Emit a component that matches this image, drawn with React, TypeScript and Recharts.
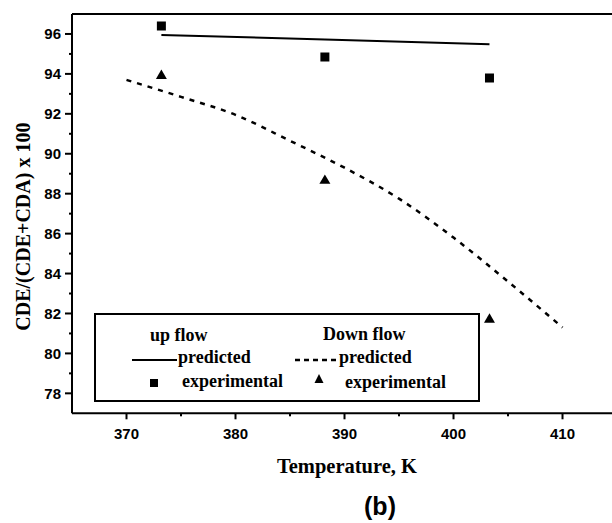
import React from 'react';
import { ComposedChart, Line, Scatter, XAxis, YAxis, ZAxis, Legend, Label } from 'recharts';

// temperature (K) and CDE/(CDE+CDA) x 100
const upExpT = [373.2, 388.2, 403.3];
const upExpV = [96.4, 94.85, 93.8];
const upPredT = [373.2, 388.2, 403.3];
const upPredV = [95.95, 95.72, 95.48];
const downExpT = [373.2, 388.2, 403.3];
const downExpV = [93.9, 88.65, 81.7];
const downPredT = [370, 375, 380, 385, 390, 395, 400, 405, 410];
const downPredV = [93.7, 92.85, 91.95, 90.65, 89.3, 87.75, 85.8, 83.6, 81.3];

const xTicks = [370, 375, 380, 385, 390, 395, 400, 405, 410];
const xLabels = [370, 380, 390, 400, 410];
const yTicks = [78, 79, 80, 81, 82, 83, 84, 85, 86, 87, 88, 89, 90, 91, 92, 93, 94, 95, 96];
const yLabels = [78, 80, 82, 84, 86, 88, 90, 92, 94, 96];

// the plot frame runs past the right edge of the figure
const xDomain = [365, 414.54];

const toPoints = (ts: number[], vs: number[]) => ts.map((t, i) => ({ t, v: vs[i] }));

const upExp = toPoints(upExpT, upExpV);
const upPred = toPoints(upPredT, upPredV);
const downExp = toPoints(downExpT, downExpV);
const downPred = toPoints(downPredT, downPredV);

const serif = '"Liberation Serif", "Times New Roman", serif';
const sans = '"Liberation Sans", Arial, sans-serif';

const XTick = ({ x, y, payload }: any) => {
  const major = xLabels.includes(payload.value);
  return (
    <g>
      <line x1={x} x2={x} y1={y} y2={y + (major ? 6 : 3)} stroke="#000" strokeWidth={2} />
      {major && (
        <text x={x} y={y + 26} textAnchor="middle" fontFamily={sans} fontWeight="bold" fontSize={15} fill="#000">
          {payload.value}
        </text>
      )}
    </g>
  );
};

const YTick = ({ x, y, payload }: any) => {
  const major = yLabels.includes(payload.value);
  return (
    <g>
      <line x1={x - (major ? 7 : 3)} x2={x} y1={y} y2={y} stroke="#000" strokeWidth={2} />
      {major && (
        <text x={x - 11} y={y + 5.5} textAnchor="end" fontFamily={sans} fontWeight="bold" fontSize={15} fill="#000">
          {payload.value}
        </text>
      )}
    </g>
  );
};

const LegendBox = () => {
  const txt = { fontFamily: serif, fontWeight: 'bold' as const, fontSize: 18, fill: '#000' };
  return (
    <svg width={386} height={89} style={{ display: 'block' }}>
      <rect x={1} y={1} width={384} height={87} fill="#fff" stroke="#000" strokeWidth={2} />
      <text x={56} y={28} {...txt}>up flow</text>
      <line x1={38} x2={83} y1={47} y2={47} stroke="#000" strokeWidth={2} />
      <text x={84} y={50} {...txt}>predicted</text>
      <rect x={56} y={66} width={8} height={8} fill="#000" />
      <text x={88} y={74} {...txt}>experimental</text>

      <text x={229} y={27} {...txt}>Down flow</text>
      <line x1={201} x2={243} y1={47} y2={47} stroke="#000" strokeWidth={2.5} strokeDasharray="5 4" />
      <text x={245} y={50} {...txt}>predicted</text>
      <polygon points="225,61 220.5,70 229.5,70" fill="#000" />
      <text x={251} y={75} {...txt}>experimental</text>
    </svg>
  );
};

const YTitle = ({ viewBox }: any) => (
  <text
    transform={`translate(23,${viewBox.y + viewBox.height / 2 + 13}) rotate(-90)`}
    textAnchor="middle"
    dominantBaseline="central"
    fontFamily={serif}
    fontWeight="bold"
    fontSize={20}
    fill="#000"
  >
    CDE/(CDE+CDA) x 100
  </text>
);

export default function App() {
  return (
    <div style={{ position: 'fixed', left: 0, top: 0, width: 612, height: 523, overflow: 'hidden', background: '#fff' }}>
      <ComposedChart width={612} height={523} margin={{ top: 12, right: 0, bottom: 29.7, left: 12 }}>
        <XAxis
          dataKey="t"
          type="number"
          domain={xDomain}
          ticks={xTicks}
          interval={0}
          height={80}
          tickSize={0}
          tickMargin={0}
          tickLine={false}
          tick={<XTick />}
          axisLine={{ stroke: '#000', strokeWidth: 2 }}
          allowDataOverflow
        >
          <Label
            value="Temperature, K"
            position="insideTop"
            offset={45}
            dx={5}
            style={{ fontFamily: serif, fontWeight: 'bold', fontSize: 20.5, fill: '#000' }}
          />
          <Label
            value="(b)"
            position="insideTop"
            offset={84}
            dx={38}
            style={{ fontFamily: sans, fontWeight: 'bold', fontSize: 25, fill: '#000' }}
          />
        </XAxis>
        <XAxis
          xAxisId="top"
          orientation="top"
          type="number"
          domain={xDomain}
          height={2}
          tick={false}
          tickLine={false}
          axisLine={{ stroke: '#000', strokeWidth: 2 }}
        />
        <YAxis
          dataKey="v"
          type="number"
          domain={[77, 97]}
          ticks={yTicks}
          interval={0}
          width={60}
          tickSize={0}
          tickMargin={0}
          tickLine={false}
          tick={<YTick />}
          axisLine={{ stroke: '#000', strokeWidth: 2 }}
          allowDataOverflow
          label={<YTitle />}
        />
        <ZAxis zAxisId="sq" range={[81, 81]} />
        <ZAxis zAxisId="tri" range={[52, 52]} />
        <Legend
          layout="horizontal"
          verticalAlign="middle"
          align="center"
          wrapperStyle={{ left: 94, top: 313, width: 386, height: 89 }}
          content={<LegendBox />}
        />
        <Line data={upPred} dataKey="v" stroke="#000" strokeWidth={2} dot={false} isAnimationActive={false} />
        <Line
          data={downPred}
          dataKey="v"
          type="monotone"
          stroke="#000"
          strokeWidth={2.5}
          strokeDasharray="5 6"
          dot={false}
          isAnimationActive={false}
        />
        <Scatter data={upExp} dataKey="v" zAxisId="sq" shape="square" fill="#000" isAnimationActive={false} />
        <Scatter data={downExp} dataKey="v" zAxisId="tri" shape="triangle" fill="#000" isAnimationActive={false} />
      </ComposedChart>
    </div>
  );
}
